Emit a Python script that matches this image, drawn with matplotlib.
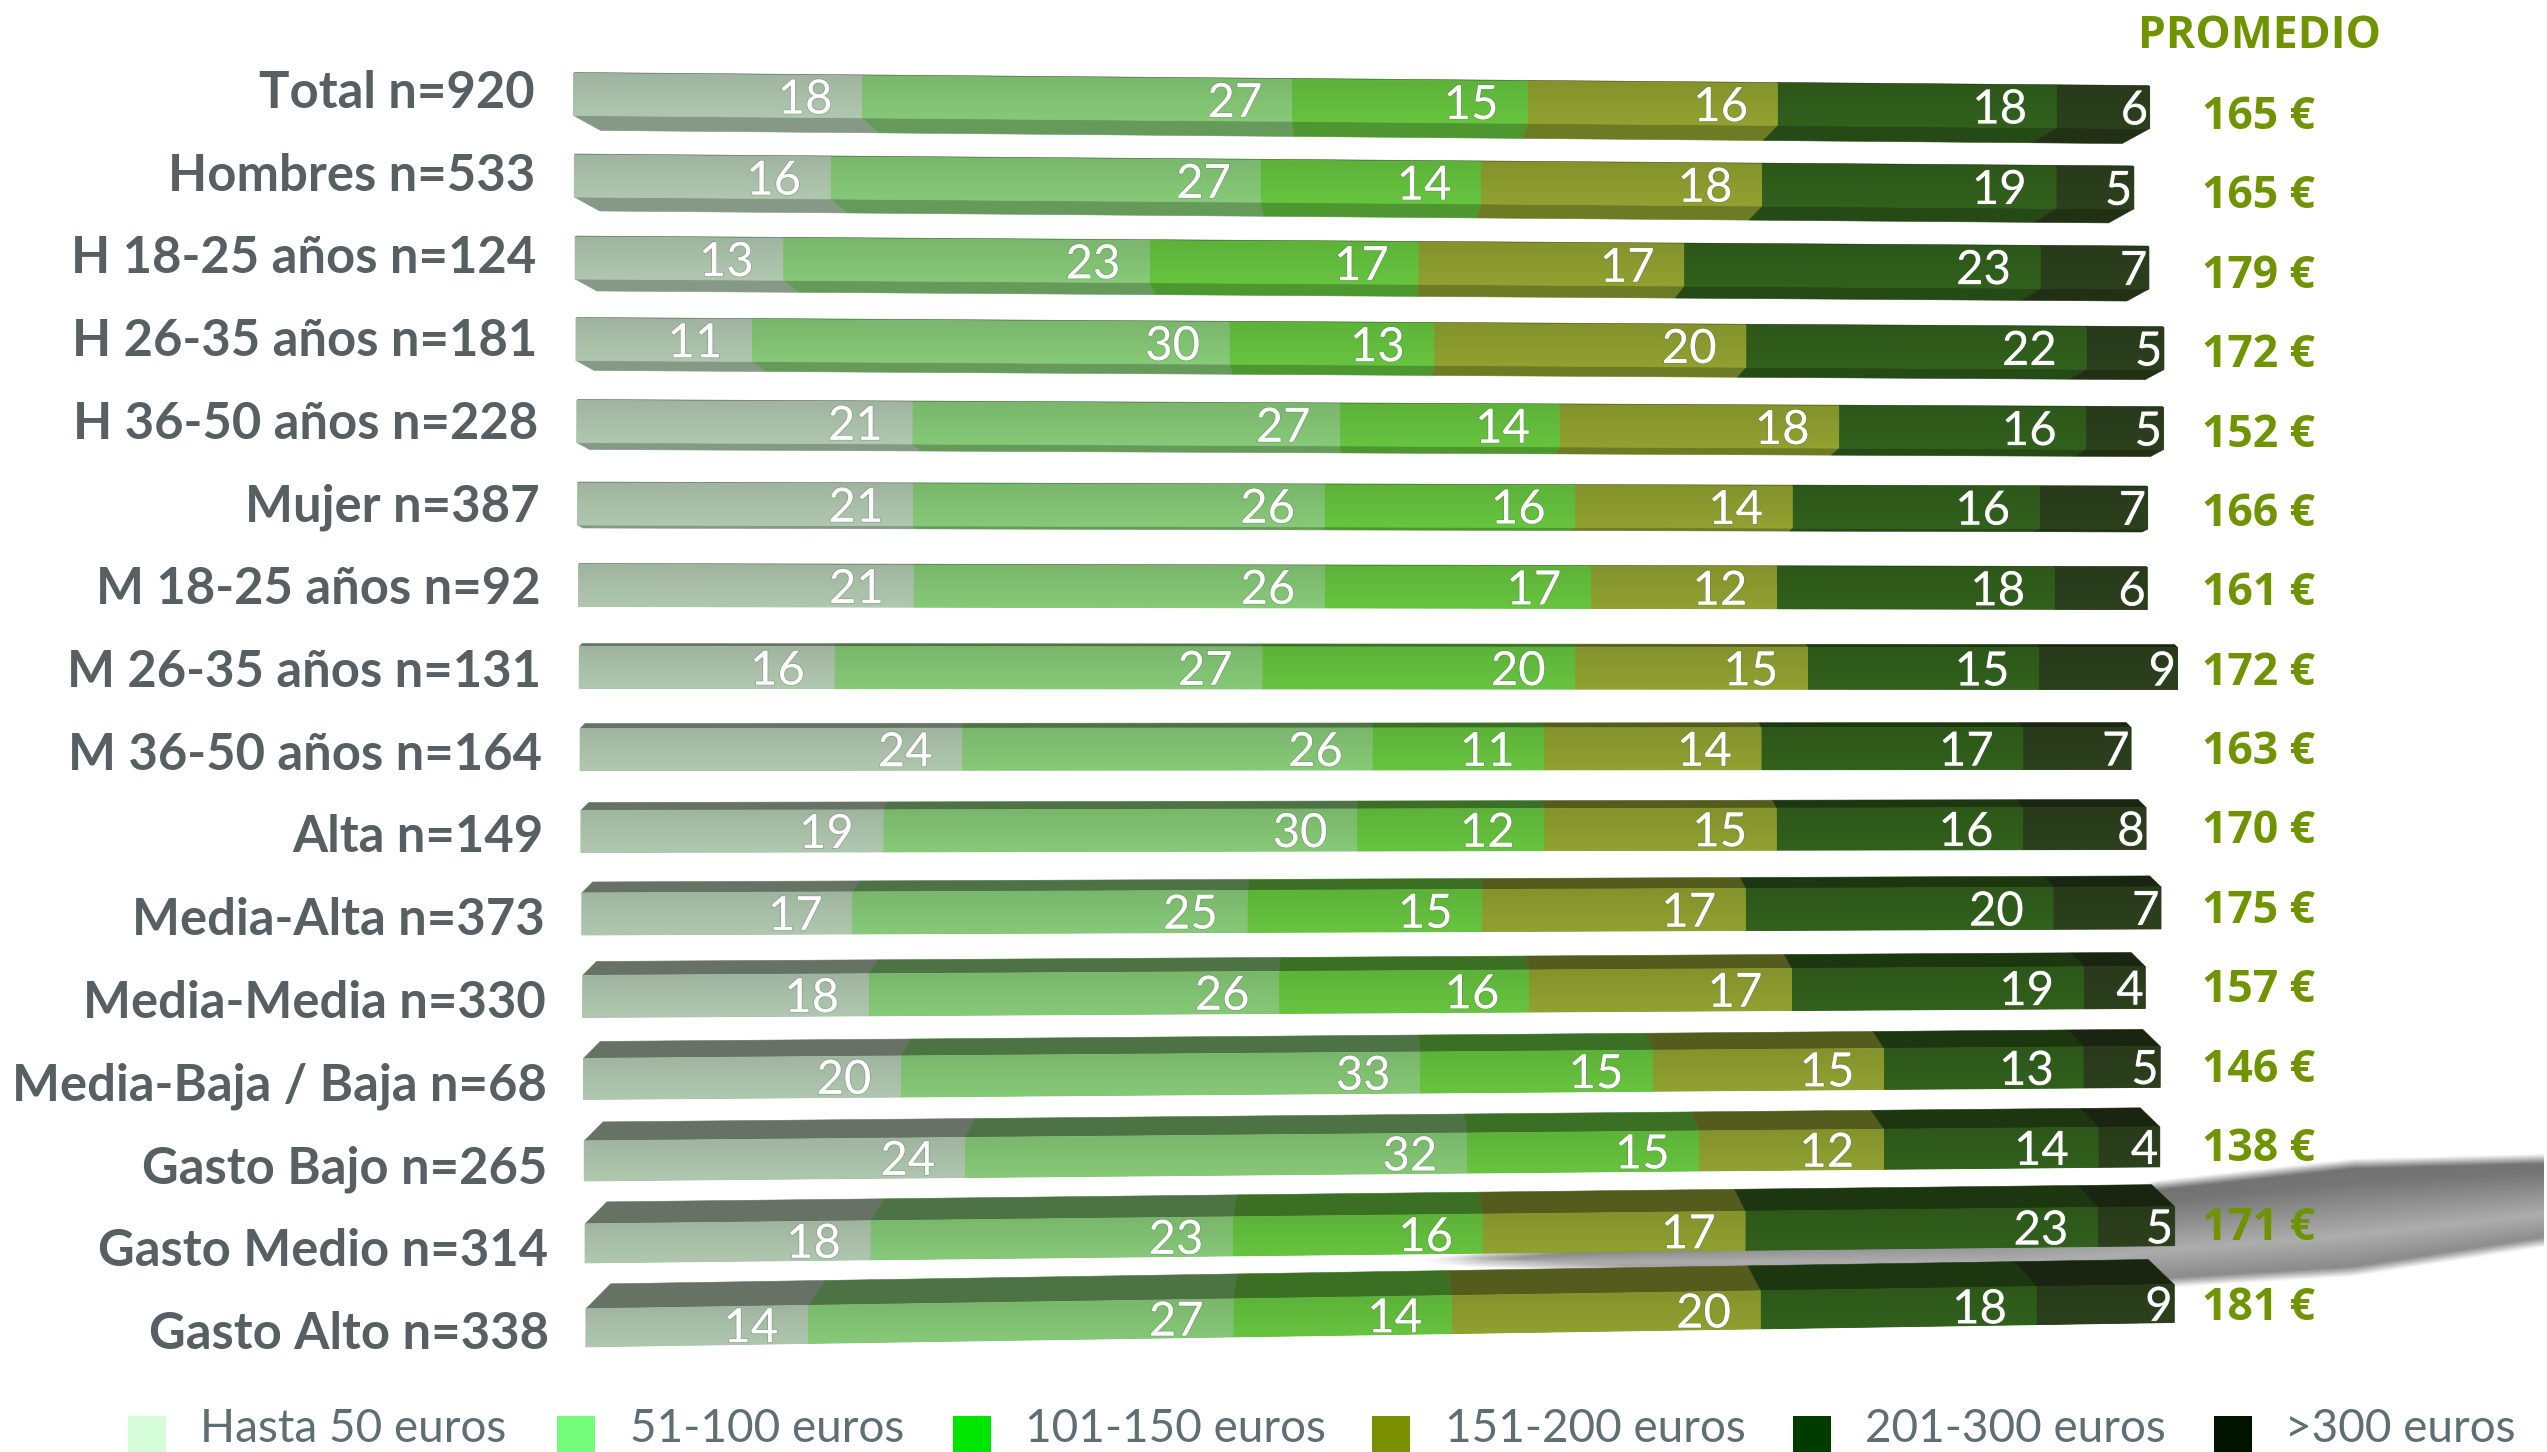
"""Barras apiladas 3D: gasto por tramo de euros y segmento, con promedio a la derecha."""

import matplotlib
matplotlib.use("Agg")
import matplotlib.patheffects as pe
import matplotlib.pyplot as plt
import numpy as np
from matplotlib.colors import to_rgb
from matplotlib.patches import Polygon, Rectangle

FUENTE = ["Lato", "DejaVu Sans"]
FUENTE_PROM = ["Open Sans", "DejaVu Sans"]

categorias = [
    "Total n=920", "Hombres n=533", "H 18-25 años n=124", "H 26-35 años n=181",
    "H 36-50 años n=228", "Mujer n=387", "M 18-25 años n=92", "M 26-35 años n=131",
    "M 36-50 años n=164", "Alta n=149", "Media-Alta n=373", "Media-Media n=330",
    "Media-Baja / Baja n=68", "Gasto Bajo n=265", "Gasto Medio n=314", "Gasto Alto n=338",
]
hasta_50 = [18, 16, 13, 11, 21, 21, 21, 16, 24, 19, 17, 18, 20, 24, 18, 14]
de_51_100 = [27, 27, 23, 30, 27, 26, 26, 27, 26, 30, 25, 26, 33, 32, 23, 27]
de_101_150 = [15, 14, 17, 13, 14, 16, 17, 20, 11, 12, 15, 16, 15, 15, 16, 14]
de_151_200 = [16, 18, 17, 20, 18, 14, 12, 15, 14, 15, 17, 17, 15, 12, 17, 20]
de_201_300 = [18, 19, 23, 22, 16, 16, 18, 15, 17, 16, 20, 19, 13, 14, 23, 18]
mas_300 = [6, 5, 7, 5, 5, 7, 6, 9, 7, 8, 7, 4, 5, 4, 5, 9]
promedio = [165, 165, 179, 172, 152, 166, 161, 172, 163, 170, 175, 157, 146, 138, 171, 181]
leyenda = ["Hasta 50 euros", "51-100 euros", "101-150 euros", "151-200 euros",
           "201-300 euros", ">300 euros"]

COLOR_CARA = ["#a8bea7", "#80c072", "#62bb3c", "#8a9a2e", "#2f5c1b", "#2a3d1c"]
COLOR_LEYENDA = ["#d5fdd9", "#74fd7a", "#00e600", "#7a9000", "#003c00", "#001400"]
GRIS = "#575f63"
GRIS_LEY = "#5f6e72"
OLIVA = "#6f9400"

# geometria de la pieza en pixeles: escala del eje y perspectiva de cada fila
PX_X0, PX_POR_PCT = 575, 15.67
PX_Y0, PX_FILA = 101, 81
INCLINA = [13, 12, 10, 9, 7, 4, 3, 1, -1, -3, -6, -9, -12, -14, -17, -24]
LADO_INF = [15, 14, 12, 10, 7, 3, 0, 0, 0, 0, 0, 0, 0, 0, 0, 0]
LADO_SUP = [1, 1, 1, 1, 1, 1, 1, 3, 5, 8, 11, 14, 17, 19, 22, 25]


def px_x(v):
    return (v - PX_X0) / PX_POR_PCT


def px_y(v):
    return (v - PX_Y0) / PX_FILA


def oscurecer(color, f):
    return tuple(min(1, c * f) for c in to_rgb(color))


def curva(x):
    # la perspectiva del original ensancha un poco el centro de las barras
    return x + 0.6 * np.sin(np.pi * x / 100)


def sombra(ax):
    # mancha gris que asoma por detras de las ultimas filas
    xs = np.arange(1400, 2548, 4)
    ys = np.arange(1130, 1320, 2)
    arriba = np.interp(xs, [1400, 1480, 2120, 2156, 2354, 2547], [1262, 1252, 1192, 1180, 1158, 1153])
    abajo = np.interp(xs, [1400, 1480, 2000, 2173, 2354, 2547], [1262, 1268, 1295, 1288, 1277, 1247])
    img = np.ones((len(ys), len(xs), 4))
    for j in range(len(xs)):
        t = (ys - arriba[j]) / max(abajo[j] - arriba[j], 1)
        gris = np.interp(t, [0, 0.2, 0.65, 1], [0.44, 0.46, 0.68, 0.5])
        img[:, j, :3] = gris[:, None]
        borde = 10
        img[:, j, 3] = np.clip((ys - arriba[j]) / borde, 0, 1) * np.clip((abajo[j] - ys) / borde, 0, 1)
    ax.imshow(img, extent=(px_x(xs[0]), px_x(xs[-1]), px_y(ys[-1]), px_y(ys[0])),
              origin="upper", aspect="auto", zorder=1, interpolation="bilinear")


def tramo(ax, fila, x0, x1, color):
    inclina = INCLINA[fila] / PX_FILA
    alto = (42 - max(fila - 11, 0)) / 2 / PX_FILA
    yc = lambda x: fila + inclina * (x / 100 - 0.5)
    fuga = lambda x, k, d: (50 - x) / 50 * k * d / 25

    cara = [(x0, yc(x0) - alto), (x1, yc(x1) - alto), (x1, yc(x1) + alto), (x0, yc(x0) + alto)]
    # fondo plano para que no queden costuras claras entre tramos
    ax.add_patch(Polygon(cara, fc=color, ec=color, lw=0.6, zorder=2.9))
    p = Polygon(cara, closed=True, transform=ax.transData, fc="none", ec="none")
    ax.add_patch(p)
    grad = np.linspace(0.95, 1.05, 32)[:, None, None] * np.array(to_rgb(color))[None, None, :]
    ymin = min(c[1] for c in cara)
    ymax = max(c[1] for c in cara)
    im = ax.imshow(np.clip(grad, 0, 1), extent=(x0, x1, ymax, ymin), origin="upper",
                   aspect="auto", zorder=3, interpolation="bilinear")
    im.set_clip_path(p)

    d_inf = LADO_INF[fila]
    if d_inf:
        d = d_inf / PX_FILA
        c_inf = oscurecer(color, 0.8)
        ax.add_patch(Polygon([(x0, yc(x0) + alto), (x1, yc(x1) + alto),
                              (x1 + fuga(x1, 2.9, d_inf), yc(x1) + alto + d),
                              (x0 + fuga(x0, 2.9, d_inf), yc(x0) + alto + d)],
                             fc=c_inf, ec=c_inf, lw=0.4, zorder=2))
    d_sup = LADO_SUP[fila]
    if d_sup:
        d = d_sup / PX_FILA
        c_sup = oscurecer(color, 0.6)
        ax.add_patch(Polygon([(x0, yc(x0) - alto), (x1, yc(x1) - alto),
                              (x1 + fuga(x1, 1.6, d_sup), yc(x1) - alto - d),
                              (x0 + fuga(x0, 1.6, d_sup), yc(x0) - alto - d)],
                             fc=c_sup, ec=c_sup, lw=0.4, zorder=2))
    return yc


def main():
    series = [hasta_50, de_51_100, de_101_150, de_151_200, de_201_300, mas_300]

    fig = plt.figure(figsize=(25.47, 14.52), dpi=100)
    ax = fig.add_axes([0, 0, 1, 1])
    ax.axis("off")

    sombra(ax)

    sombra_txt = [pe.withStroke(linewidth=1.2, foreground="#5a6a5a55")]

    for fila, nombre in enumerate(categorias):
        inicio = -0.1 + fila * 0.053
        escala = 1.006 - 0.0008 * fila
        acum = 0
        for s, valores in enumerate(series):
            v = valores[fila]
            x0 = inicio + curva(acum * escala)
            acum += v
            x1 = inicio + curva(acum * escala)
            yc = tramo(ax, fila, x0, x1, COLOR_CARA[s])
            margen = 0.1 if s == len(series) - 1 else 1.9
            ax.text(x1 - margen, yc(x1 - margen - 1), str(v), color="white", ha="right",
                    va="center_baseline", fontsize=34, family=FUENTE, zorder=5,
                    path_effects=sombra_txt)

        ax.text(-2.6 + 0.065 * fila, -0.148 + 1.021 * fila, nombre, ha="right",
                va="center_baseline", color=GRIS, fontsize=36.5, fontweight="bold", family=FUENTE)
        ax.text(px_x(2202), 0.136 + 0.98 * fila, f"{promedio[fila]} €", ha="left",
                va="center_baseline", color=OLIVA, fontsize=32, fontweight="bold", family=FUENTE_PROM)

    ax.text(px_x(2259), px_y(31), "PROMEDIO", ha="center", va="center_baseline",
            color=OLIVA, fontsize=32, fontweight="bold", family=FUENTE_PROM)

    # leyenda inferior, pegada al borde como en el original
    sw_x = [128, 557, 953, 1372, 1793, 2214]
    tx_x = [200, 630, 1025, 1445, 1865, 2285]
    for etiqueta, color, xa, xb in zip(leyenda, COLOR_LEYENDA, sw_x, tx_x):
        ax.add_patch(Rectangle((px_x(xa), px_y(1416)), 38 / PX_POR_PCT, 36 / PX_FILA,
                               fc=color, ec="none"))
        ax.text(px_x(xb), px_y(1442), etiqueta, ha="left", va="baseline",
                color=GRIS_LEY, fontsize=33, family=FUENTE)

    ax.set_xlim(px_x(0), px_x(2547))
    ax.set_ylim(px_y(1452), px_y(0))
    fig.savefig("out.png", dpi=100)
    plt.close(fig)


if __name__ == "__main__":
    main()
